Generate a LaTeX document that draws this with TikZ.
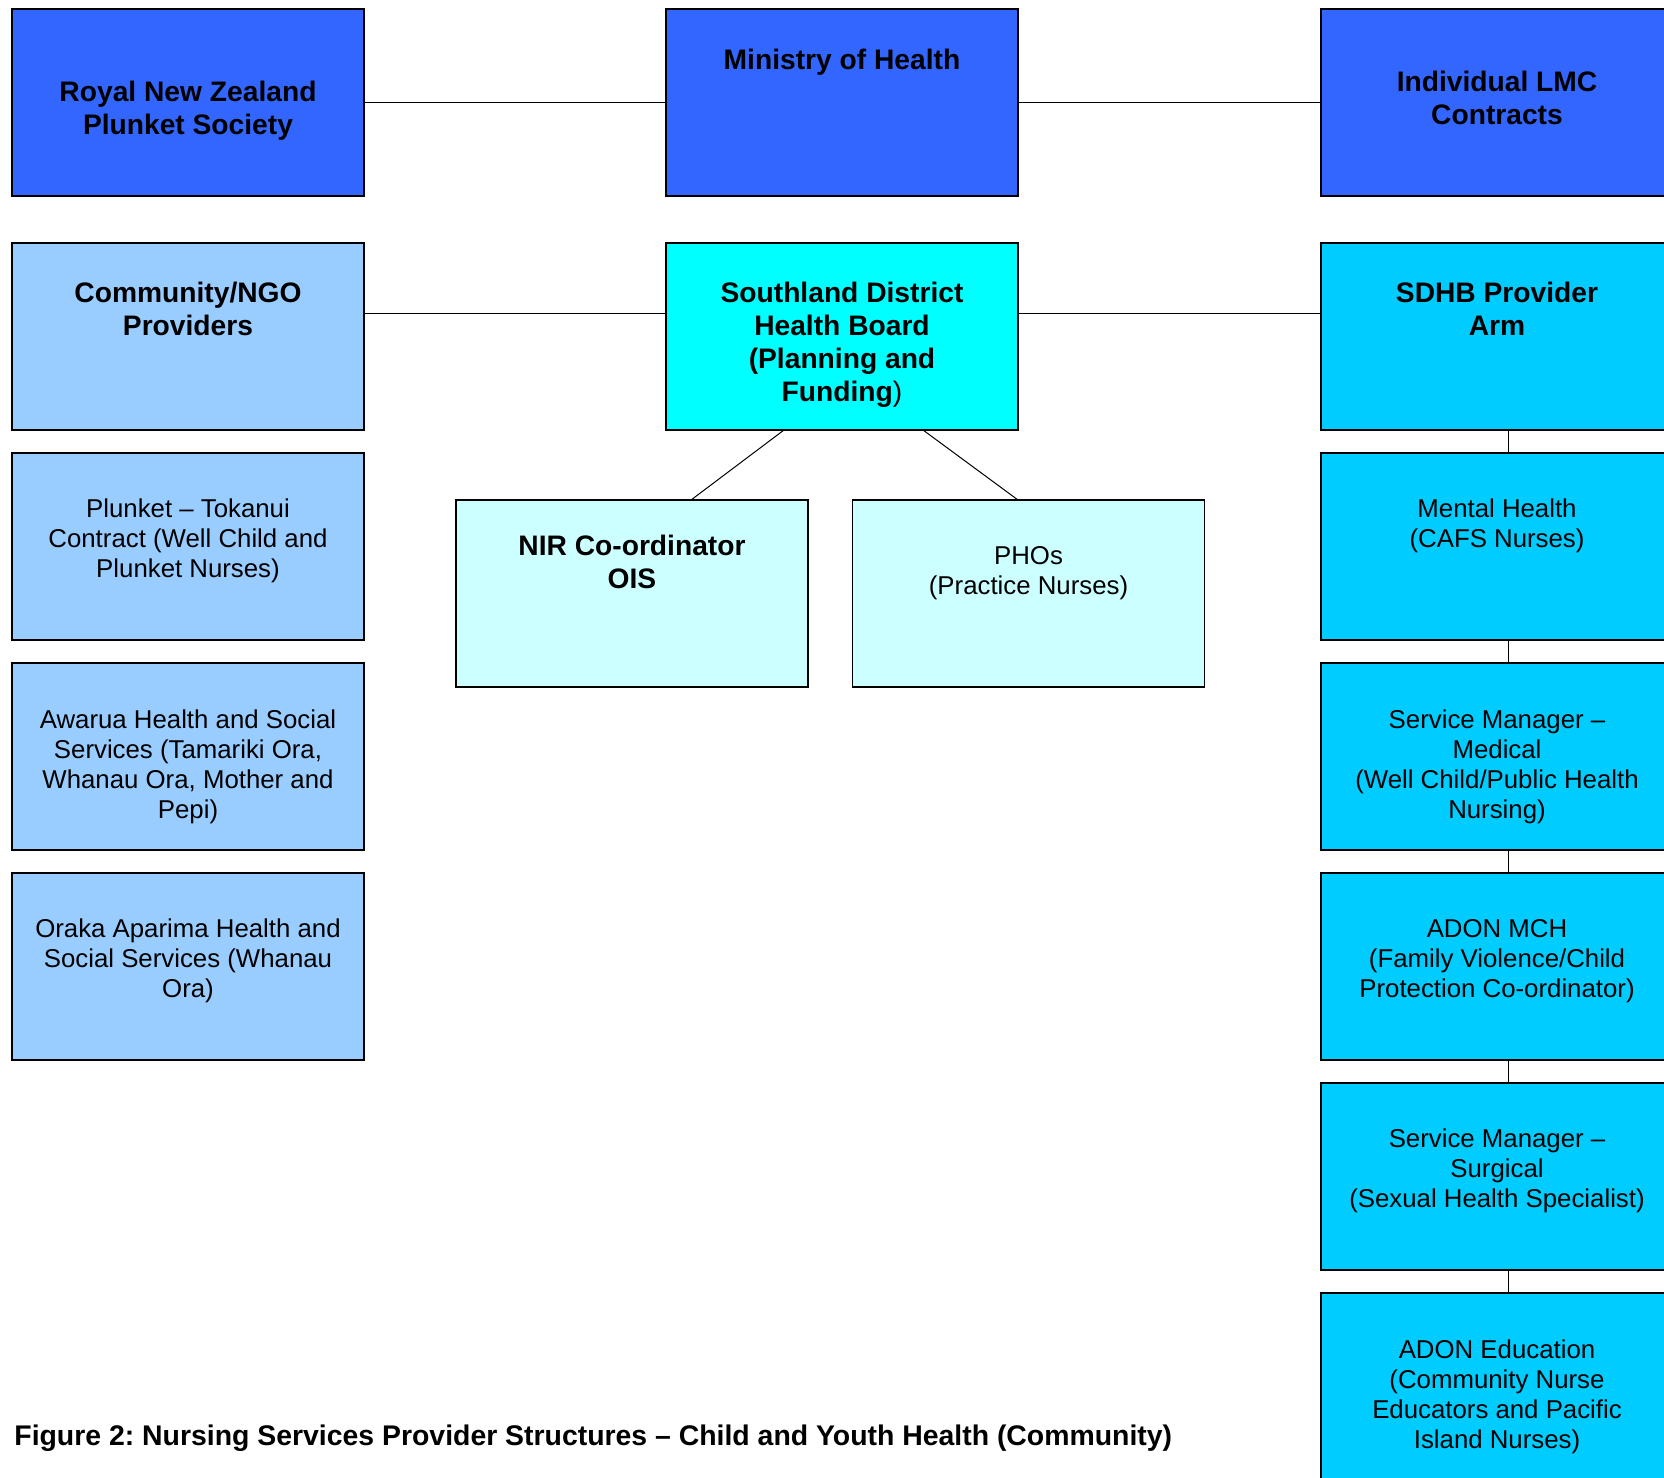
\documentclass[tikz,border=0pt]{standalone}
\usepackage{fontspec}
\setmainfont{Liberation Sans}
\usetikzlibrary{positioning}
\frenchspacing

\definecolor{topBlue}{HTML}{3366FF}
\definecolor{ngoBlue}{HTML}{99CCFF}
\definecolor{planCyan}{HTML}{00FFFF}
\definecolor{paleCyan}{HTML}{CCFFFF}
\definecolor{armBlue}{HTML}{00CCFF}

\begin{document}
\begin{tikzpicture} [x=0.5pt, y=-0.5pt]
    \tikzset{block/.style={%
      draw,%
      rectangle,%
      line width=0.7pt,%
      minimum width=176pt,%
      minimum height=93.5pt,%
      inner sep=0pt,%
      outer sep=0pt}%
    };
\tikzset{title/.style={font=\fontsize{14.1}{16.5}\selectfont\bfseries, align=center}};
\tikzset{desc/.style={font=\fontsize{12.9}{15}\selectfont, align=center}};
\tikzset{link/.style={draw, line width=0.5pt}};

\useasboundingbox (0,0) rectangle (1664,1477);
\clip (0,0) rectangle (1664,1477);

%top row
\node[block, fill=topBlue] (royalPlunket) at (188, 102.5) {};
\node[block, fill=topBlue] (ministry) at (842, 102.5) {};
\node[block, fill=topBlue] (lmcContracts) at (1497, 102.5) {};
\node[title] at ([yshift=-4.1pt]royalPlunket.center) {Royal New Zealand\\Plunket Society};
\node[title] at ([yshift=20.15pt]ministry.center) {Ministry of Health};
\node[title] at ([yshift=2.25pt]lmcContracts.center) {Individual LMC\\Contracts};

%second row
\node[block, fill=ngoBlue, below=23.5pt of royalPlunket] (ngoProviders) {};
\node[block, fill=planCyan, below=23.5pt of ministry] (southland) {};
\node[block, fill=armBlue, below=23.5pt of lmcContracts] (sdhbArm) {};
\node[title] at ([yshift=14pt]ngoProviders.center) {Community/NGO\\Providers};
\node[title] at ([yshift=-4.25pt]southland.center) {Southland District\\Health Board\\(Planning and\\Funding{\mdseries)}};
\node[title] at ([yshift=14pt]sdhbArm.center) {SDHB Provider\\Arm};

%community column
\node[block, fill=ngoBlue, below=11.5pt of ngoProviders] (tokanui) {};
\node[block, fill=ngoBlue, below=11.5pt of tokanui] (awarua) {};
\node[block, fill=ngoBlue, below=11.5pt of awarua] (oraka) {};
\node[desc] at ([yshift=2.85pt]tokanui.center) {Plunket -- Tokanui\\Contract (Well Child and\\Plunket Nurses)};
\node[desc] at ([yshift=-5pt]awarua.center) {Awarua Health and Social\\Services (Tamariki Ora,\\Whanau Ora, Mother and\\Pepi)};
\node[desc] at ([yshift=2.8pt]oraka.center) {Oraka Aparima Health and\\Social Services (Whanau\\Ora)};

%planning and funding children
\node[block, fill=paleCyan] (nirCoord) at (632, 593.5) {};
\node[block, fill=paleCyan] (phos) at (1028.5, 593.5) {};
\node[title] at ([yshift=15.75pt]nirCoord.center) {NIR Co-ordinator\\OIS};
\node[desc] at ([yshift=10.15pt]phos.center) {PHOs\\(Practice Nurses)};

%provider arm column
\node[block, fill=armBlue, below=11.5pt of sdhbArm] (mentalHealth) {};
\node[block, fill=armBlue, below=11.5pt of mentalHealth] (smMedical) {};
\node[block, fill=armBlue, below=11.5pt of smMedical] (adonMch) {};
\node[block, fill=armBlue, below=11.5pt of adonMch] (smSurgical) {};
\node[block, fill=armBlue, below=11.5pt of smSurgical] (adonEducation) {};
\node[desc] at ([yshift=10.35pt]mentalHealth.center) {Mental Health\\(CAFS Nurses)};
\node[desc] at ([yshift=-5pt]smMedical.center) {Service Manager --\\Medical\\(Well Child/Public Health\\Nursing)};
\node[desc] at ([yshift=2.8pt]adonMch.center) {ADON MCH\\(Family Violence/Child\\Protection Co-ordinator)};
\node[desc] at ([yshift=2.6pt]smSurgical.center) {Service Manager --\\Surgical\\(Sexual Health Specialist)};
\node[desc] at ([yshift=-5.1pt]adonEducation.center) {ADON Education\\(Community Nurse\\Educators and Pacific\\Island Nurses)};

%connectors
\draw[link] (royalPlunket) -- (ministry);
\draw[link] (ministry) -- (lmcContracts);
\draw[link] ([yshift=11.75pt]ngoProviders.east) -- ([yshift=11.75pt]southland.west);
\draw[link] ([yshift=11.75pt]southland.east) -- ([yshift=11.75pt]sdhbArm.west);
\draw[link] ([xshift=-29pt]southland.south) -- ([xshift=29.5pt]nirCoord.north);
\draw[link] ([xshift=40.5pt]southland.south) -- ([xshift=-5.25pt]phos.north);
\draw[link] ([xshift=5.5pt]sdhbArm.south) -- ([xshift=5.5pt]mentalHealth.north);
\draw[link] ([xshift=5.5pt]mentalHealth.south) -- ([xshift=5.5pt]smMedical.north);
\draw[link] ([xshift=5.5pt]smMedical.south) -- ([xshift=5.5pt]adonMch.north);
\draw[link] ([xshift=5.5pt]adonMch.south) -- ([xshift=5.5pt]smSurgical.north);
\draw[link] ([xshift=5.5pt]smSurgical.south) -- ([xshift=5.5pt]adonEducation.north);

%caption
\node[anchor=west, inner sep=0pt, font=\fontsize{14.2}{16}\selectfont\bfseries] (figCaption) at (14, 1438) {Figure 2: Nursing Services Provider Structures -- Child and Youth Health (Community)};

\end{tikzpicture}
\end{document}
